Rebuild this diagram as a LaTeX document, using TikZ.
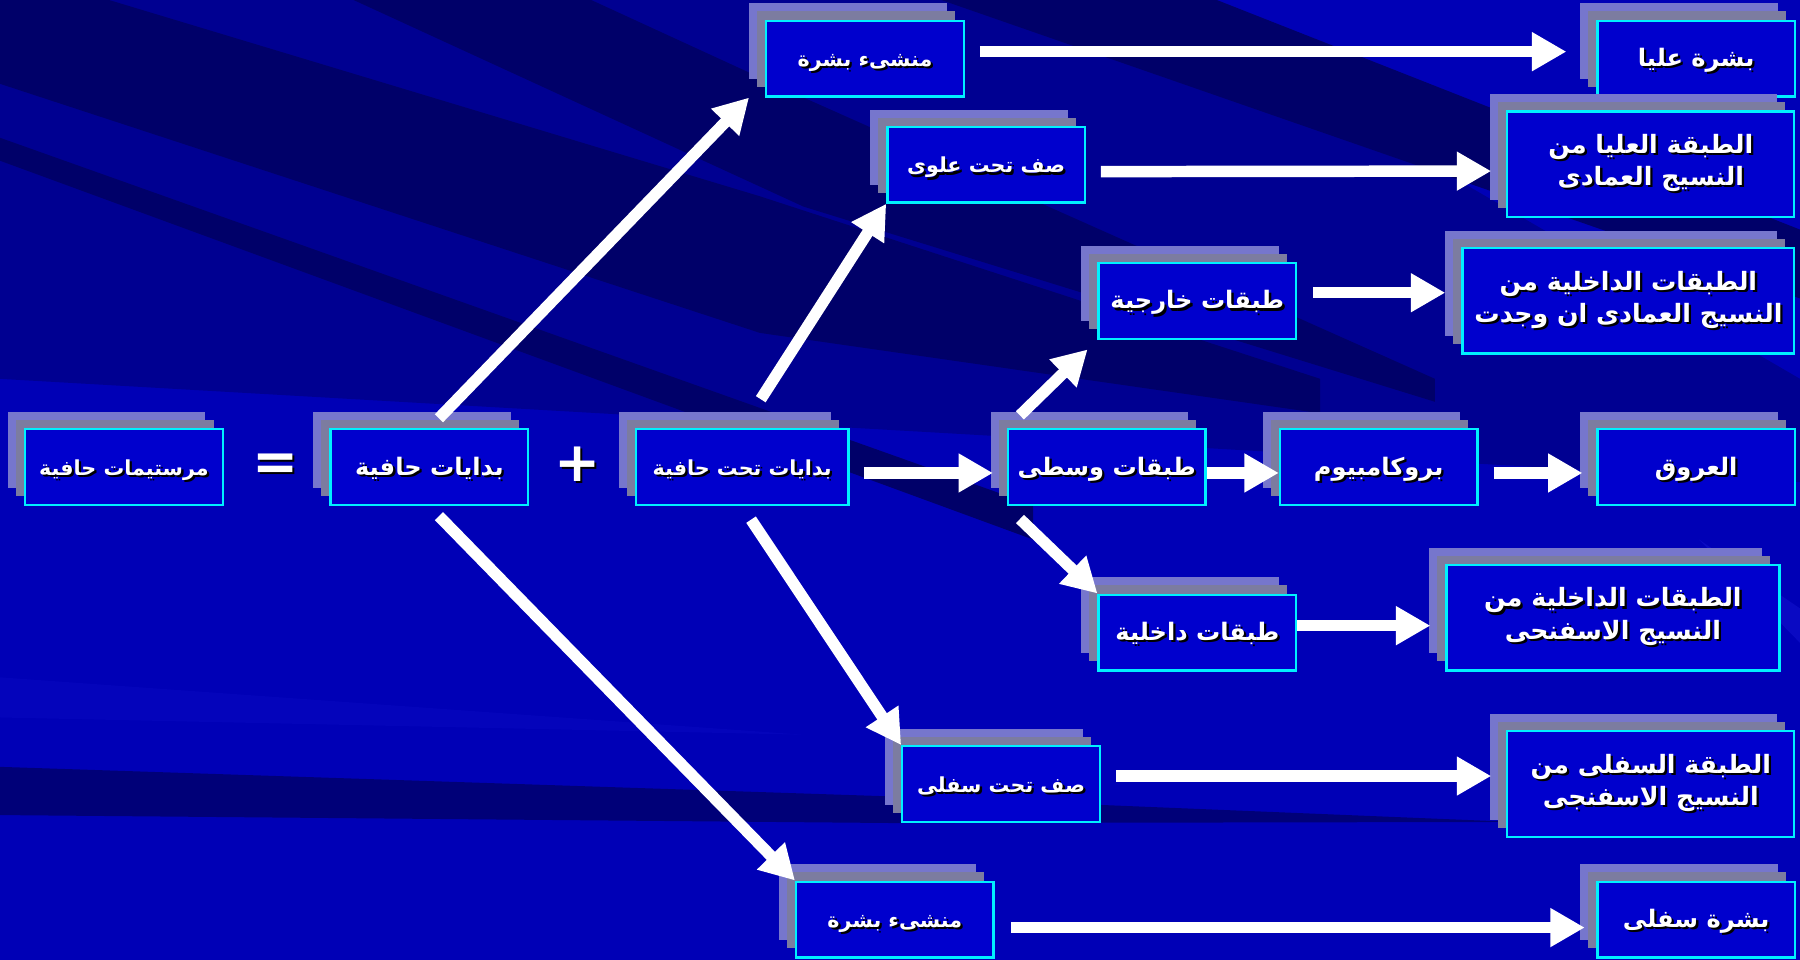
\documentclass[tikz,border=0pt]{standalone}
\usepackage{fontspec}
\usetikzlibrary{arrows.meta}
\usetikzlibrary{shadows}
\usetikzlibrary{positioning}
\TeXXeTstate=1
\setmainfont{DejaVu Sans}
\newfontfamily\arabicfont[Script=Arabic]{DejaVu Sans}
\definecolor{bgbase}{RGB}{0,0,182}
\definecolor{bgmid}{RGB}{0,0,145}
\definecolor{bgdark}{RGB}{0,0,105}
\definecolor{bglight}{RGB}{25,25,215}
\definecolor{boxblue}{RGB}{0,0,205}
\definecolor{boxcyan}{RGB}{0,240,255}
\definecolor{shadowback}{RGB}{118,118,205}
\definecolor{shadowmid}{RGB}{124,124,160}
\newcommand\shtext[1]{\leavevmode\rlap{\kern1pt\raisebox{-1pt}{\color{black}#1}}#1}
\newcommand\artext[1]{\shtext{\beginR#1\endR}}

\begin{document}
\begin{tikzpicture}[x=0.5pt, y=-0.5pt,
    tissuebox/.style={rectangle, draw=boxcyan, line width=1pt, fill=boxblue, text=white, minimum width=86pt, minimum height=33pt, inner sep=2pt, align=center, text height=9pt, text depth=2pt, font=\arabicfont\bfseries\fontsize{10.5}{13}\selectfont,
        copy shadow={shadow xshift=-7.5pt, shadow yshift=7.5pt, fill=shadowback, draw=none},
        copy shadow={shadow xshift=-4pt, shadow yshift=4pt, fill=shadowmid, draw=none}},
    smalltext/.style={font=\arabicfont\bfseries\fontsize{9}{11}\selectfont},
    widebox/.style={tissuebox, minimum width=125pt, minimum height=46pt, text height=, text depth=, font=\arabicfont\bfseries\fontsize{11}{14}\selectfont},
    signtext/.style={text=white, font=\bfseries\fontsize{24}{24}\selectfont},
    bigarrow/.style={white, line width=5pt, -{Triangle[width=16pt,length=15pt]}}]
    \useasboundingbox (0,0) rectangle (1568,836);

    % Background
    \fill[bgbase] (0,0) rectangle (1568,836);
    \fill[bgmid] (0,0) -- (1000,0) -- (1568,330) -- (1568,420) -- (0,330) -- cycle;
    \fill[bgdark] (0,0) -- (95,0) -- (662,171) -- (1150,330) -- (1150,360) -- (662,290) -- (0,73) -- cycle;
    \fill[bgdark] (308,0) -- (515,0) -- (700,85) -- (1250,330) -- (1250,350) -- (700,180) -- cycle;
    \fill[bgdark] (820,0) -- (1060,0) -- (1568,200) -- (1568,260) -- cycle;
    \fill[bgdark] (0,120) -- (900,440) -- (900,470) -- (0,140) -- cycle;
    \fill[bgdark!80!bgbase] (0,668) -- (784,694) -- (1320,716) -- (784,717) -- (0,710) -- cycle;
    \fill[bgbase!60!bglight] (1480,470) -- (1568,530) -- (1568,560) -- cycle;
    \fill[bgbase!85!bglight] (0,590) -- (700,640) -- (0,625) -- cycle;

    % Main row
    \node[tissuebox, smalltext] (mrst) at (108,407) {\artext{مرستيمات حافية}};
    \node[tissuebox] (bhaf) [right=46pt of mrst] {\artext{بدايات حافية}};
    \node[tissuebox, smalltext, minimum width=92.5pt] (btht) [right=46pt of bhaf] {\artext{بدايات تحت حافية}};
    \node[signtext] (eqsign) at (240,408) {\shtext{=}};
    \node[signtext] (plussign) at (503,405) {\shtext{+}};

    % Upper branches
    \node[tissuebox, smalltext] (mnshu) at (753.5,51) {\artext{منشىء بشرة}};
    \node[tissuebox] (bshu) at (1477.5,51) {\artext{بشرة عليا}};
    \node[tissuebox, smalltext] (sftu) at (859,143.5) {\artext{صف تحت علوى}};
    \node[widebox] (tbul) at (1438,143) {\artext{الطبقة العليا من}\\\artext{النسيج العمادى}};
    \node[tissuebox] (tbkh) at (1043,262) {\artext{طبقات خارجية}};
    \node[widebox, minimum width=144.5pt] (tbdu) at (1418.5,262) {\artext{الطبقات الداخلية من}\\\artext{النسيج العمادى ان وجدت}};

    % Middle branch
    \node[tissuebox] (tbws) at (964,407) {\artext{طبقات وسطى}};
    \node[tissuebox] (prcm) at (1201,407) {\artext{بروكامبيوم}};
    \node[tissuebox] (orq) at (1477.5,407) {\artext{العروق}};

    % Lower branches
    \node[tissuebox] (tbdk) at (1043,551) {\artext{طبقات داخلية}};
    \node[widebox, minimum width=145pt] (tbds) at (1405,538) {\artext{الطبقات الداخلية من}\\\artext{النسيج الاسفنحى}};
    \node[tissuebox, smalltext] (sfts) at (872,683) {\artext{صف تحت سفلى}};
    \node[widebox] (tbsf) at (1438,683) {\artext{الطبقة السفلى من}\\\artext{النسيج الاسفنجى}};
    \node[tissuebox, smalltext] (mnshs) at (779.5,801) {\artext{منشىء بشرة}};
    \node[tissuebox] (bshs) at (1477.5,801) {\artext{بشرة سفلى}};

    % Arrows
    \draw[bigarrow, shorten <=6pt] (bhaf.north) -- ([xshift=-7pt]mnshu.south west);
    \draw[bigarrow, shorten <=6pt] (bhaf.south) -- (mnshs.north west);
    \draw[bigarrow, shorten <=15pt] (btht.north) -- (sftu.south west);
    \draw[bigarrow, shorten <=7pt] (btht.south) -- (sfts.north west);
    \draw[bigarrow, shorten <=6.5pt, shorten >=6pt] ([yshift=-2.5pt]btht.east) -- ([yshift=-2.5pt]tbws.west);
    \draw[bigarrow, shorten <=8pt, shorten >=6pt] (tbws.north west) -- (tbkh.south west);
    \draw[bigarrow, shorten <=8pt] (tbws.south west) -- (tbdk.north west);
    \draw[bigarrow] ([yshift=-2.5pt]tbws.east) -- ([yshift=-2.5pt]prcm.west);
    \draw[bigarrow, shorten <=6.5pt, shorten >=6pt] ([yshift=-2.5pt]prcm.east) -- ([yshift=-2.5pt]orq.west);
    \draw[bigarrow, shorten <=6.5pt, shorten >=13pt] ([yshift=3pt]mnshu.east) -- ([yshift=3pt]bshu.west);
    \draw[bigarrow, shorten <=6.5pt, shorten >=6.5pt] ([yshift=-3pt]sftu.east) -- ([yshift=-3pt]tbul.west);
    \draw[bigarrow, shorten <=7pt, shorten >=7pt] ([yshift=3.5pt]tbkh.east) -- ([yshift=3.5pt]tbdu.west);
    \draw[bigarrow, shorten >=6.5pt] ([yshift=3pt]tbdk.east) -- ([yshift=-3.5pt]tbds.west);
    \draw[bigarrow, shorten <=6.5pt, shorten >=6.5pt] ([yshift=3.5pt]sfts.east) -- ([yshift=3.5pt]tbsf.west);
    \draw[bigarrow, shorten <=7pt, shorten >=5pt] ([yshift=-3.5pt]mnshs.east) -- ([yshift=-3.5pt]bshs.west);
\end{tikzpicture}
\end{document}
